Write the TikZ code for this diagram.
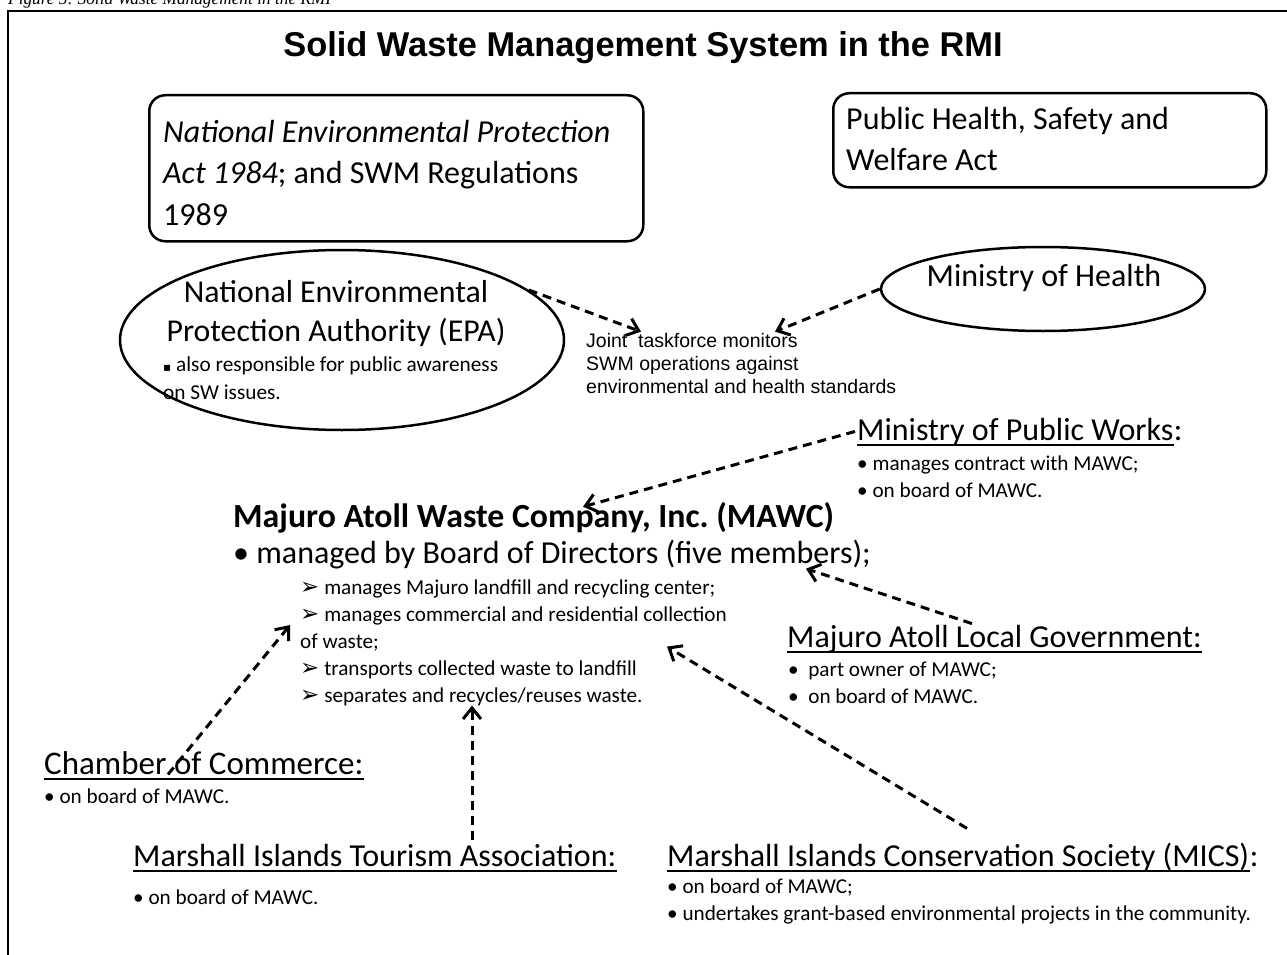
\documentclass[tikz,border=0pt]{standalone}
\usepackage{fontspec}
\setmainfont{Carlito}
\newfontfamily\arialfont{Liberation Sans}
\newfontfamily\timesfont{Liberation Serif}
\newfontfamily\symfont{DejaVu Sans}
\usetikzlibrary{arrows.meta,calc,shapes.geometric}

% dingbat arrow used for the MAWC duties list
\newcommand\duty{{\symfont\fontsize{23}{27}\selectfont ➢}}

% multi-line text nodes are placed by the baseline of their last line
\tikzset{
  big/.style={font=\fontsize{32}{41.5}\selectfont},
  small/.style={font=\fontsize{21.2}{27}\selectfont},
  txt/.style={inner sep=0pt, anchor=base west, align=left},
  lawbox/.style={draw, line width=2.5pt, rounded corners=16pt, inner sep=0pt, anchor=north west},
  oval/.style={draw, ellipse, line width=2.5pt, inner sep=0pt},
  link/.style={line width=3pt, dash pattern=on 9pt off 6pt,
    -{Straight Barb[length=11pt,width=18pt,line width=3pt]}},
  uline/.style={line width=2pt},
}

\begin{document}
\frenchspacing
\begin{tikzpicture}[x=1pt,y=-1pt]
\useasboundingbox (0,0) rectangle (1287,955);
\fill[white] (0,0) rectangle (1287,955);

% caption above the frame and the frame itself
\node[txt, font=\timesfont\itshape\fontsize{17.3}{19}\selectfont] (caption) at (8,5)
  {Figure 5: Solid Waste Management in the RMI};
\draw[line width=2pt] (8,960) -- (8,11) -- (1290,11);

% title
\node[font=\arialfont\bfseries\fontsize{34.4}{40}\selectfont, anchor=base, inner sep=0pt]
  (title) at (643,57) {Solid Waste Management System in the RMI};

% legislation boxes
\node[lawbox, minimum width=494pt, minimum height=146pt] (nepabox) at (148,94) {};
\node[txt, big] (nepatext) at (163,225)
  {\textit{National Environmental Protection}\\\textit{Act 1984}; and SWM Regulations\\1989};
\node[lawbox, minimum width=433pt, minimum height=94pt] (phbox) at (832,92) {};
\node[txt, big] (phtext) at (846,170.5) {Public Health, Safety and\\Welfare Act};

% regulating agencies
\node[oval, minimum width=444pt, minimum height=180pt] (epa) at (342,340) {};
\node[font=\fontsize{31.8}{39}\selectfont, anchor=base, inner sep=0pt, align=center]
  (epatext) at (336,341) {National Environmental\\Protection Authority (EPA)};
\node[txt, font=\fontsize{21.3}{28}\selectfont] (epanote) at (163,399)
  {{\symfont\fontsize{12}{12}\selectfont ▪} also responsible for public awareness\\on SW issues.};

\node[oval, minimum width=324pt, minimum height=84pt] (moh) at (1043,289) {};
\node[big, anchor=base, inner sep=0pt] (mohtext) at (1044,286) {Ministry of Health};

\node[txt, font=\arialfont\fontsize{19.5}{23}\selectfont] (joint) at (586,393)
  {Joint~ taskforce monitors\\SWM operations against\\environmental and health standards};

% Ministry of Public Works
\node[txt, big] (mpw) at (857,440) {Ministry of Public Works};
\node[txt, big] (mpwc) at (mpw.base east) {:};
\node[txt, small] (mpwnote) at (857,497) {• manages contract with MAWC;\\• on board of MAWC.};

% the waste company
\node[txt, font=\bfseries\fontsize{33.8}{34}\selectfont] (mawc) at (233,527)
  {Majuro Atoll Waste Company, Inc. (MAWC)};
\node[txt, font=\fontsize{32}{34}\selectfont] (board) at (233,563)
  {• managed by Board of Directors (five members);};
\node[txt, small] (duties) at (300,702)
  {\duty{} manages Majuro landfill and recycling center;\\
   \duty{} manages commercial and residential collection\\
   of waste;\\
   \duty{} transports collected waste to landfill\\
   \duty{} separates and recycles/reuses waste.};

% board members
\node[txt, big] (malg) at (787,647) {Majuro Atoll Local Government:};
\node[txt, small] (malgnote) at (788,703) {•\ \ part owner of MAWC;\\•\ \ on board of MAWC.};

\node[txt, font=\fontsize{33}{34}\selectfont] (chamber) at (44,774) {Chamber of Commerce:};
\node[txt, small] (chambernote) at (44,803) {• on board of MAWC.};

\node[txt, big] (mita) at (133,866) {Marshall Islands Tourism Association:};
\node[txt, small] (mitanote) at (133,904) {• on board of MAWC.};

\node[txt, big] (mics) at (667,866) {Marshall Islands Conservation Society (MICS)};
\node[txt, big] (micsc) at (mics.base east) {:};
\node[txt, small] (micsnote) at (667,920)
  {• on board of MAWC;\\• undertakes grant-based environmental projects in the community.};

% underlined headings
\foreach \n in {mpw,malg,chamber,mita,mics}
  \draw[uline] ([yshift=-5pt]\n.base west) -- ([yshift=-5pt]\n.base east);

% relations
\draw[link] (epa.15) -- ($(joint.north west)+(55,-1)$);
\draw[link] (moh.west) -- ($(joint.north west)+(189,-1)$);
\draw[link] ([xshift=-2pt]mpw.west) -- ($(mawc.north west)+(350,5)$);
\draw[link] ($(malg.north west)+(185,-1)$) -- ($(board.south west)+(573,0)$);
\draw[link] ($(mics.north west)+(300,-14)$) -- ($(duties.south west)+(367,-59)$);
\draw[link] ($(mita.north west)+(339,-4)$) -- ($(duties.south west)+(172,0)$);
\draw[link] ($(chamber.south west)+(124,0)$) -- ($(duties.north west)+(-10,46)$);
\end{tikzpicture}
\end{document}
